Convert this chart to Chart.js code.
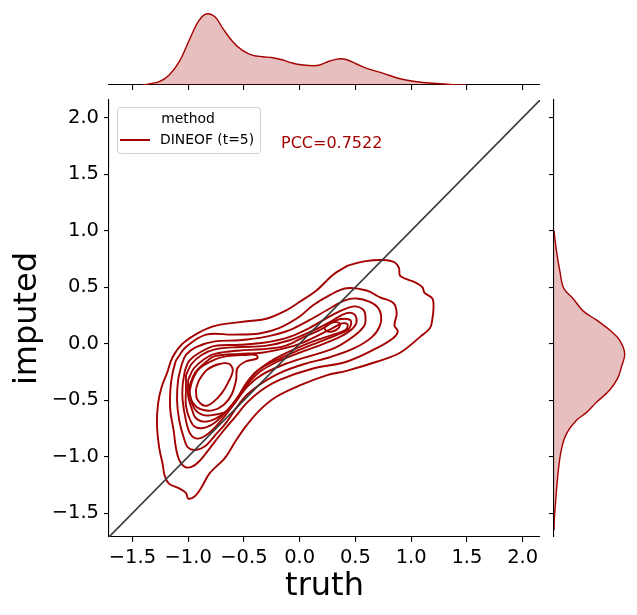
<!DOCTYPE html>
<html>
<head>
<meta charset="utf-8">
<script src="https://cdn.jsdelivr.net/npm/chart.js@4.4.1/dist/chart.umd.min.js"></script>
<style>
  html, body { margin: 0; padding: 0; background: #fff; }
  #wrap { position: relative; width: 637px; height: 615px; }
  canvas { position: absolute; }
</style>
</head>
<body>
<div id="wrap">
  <canvas id="top" width="637" height="100" style="left:0;top:0"></canvas>
  <canvas id="side" width="97" height="615" style="left:540px;top:0"></canvas>
  <canvas id="main" width="637" height="615" style="left:0;top:0"></canvas>
</div>
<script>
// axis limits and ticks (same for truth and imputed)
const axisMin = -1.71;
const axisMax = 2.155;
const xTicks = [-1.5, -1.0, -0.5, 0.0, 0.5, 1.0, 1.5, 2.0];
const yTicks = [-1.5, -1.0, -0.5, 0.0, 0.5, 1.0, 1.5, 2.0];

const methodName = "DINEOF (t=5)";
const pccText = "PCC=0.7522";

// KDE contour lines, [truth, imputed], outermost first
const level1 = [[0.43,0.69],[0.59,0.73],[0.75,0.74],[0.85,0.72],[0.89,0.67],[0.90,0.60],[0.96,0.57],[1.04,0.54],[1.10,0.50],[1.12,0.45],[1.19,0.40],[1.20,0.31],[1.19,0.22],[1.17,0.14],[1.08,0.06],[0.90,-0.08],[0.69,-0.16],[0.42,-0.24],[0.24,-0.28],[0.00,-0.37],[-0.21,-0.47],[-0.36,-0.59],[-0.49,-0.74],[-0.58,-0.87],[-0.67,-1.01],[-0.81,-1.15],[-0.88,-1.27],[-0.94,-1.35],[-1.00,-1.37],[-1.02,-1.32],[-1.08,-1.28],[-1.17,-1.24],[-1.21,-1.17],[-1.23,-1.06],[-1.26,-0.92],[-1.28,-0.71],[-1.27,-0.53],[-1.24,-0.39],[-1.19,-0.26],[-1.14,-0.12],[-1.05,0.00],[-0.90,0.10],[-0.75,0.16],[-0.45,0.20],[-0.30,0.22],[-0.13,0.29],[0.00,0.37],[0.15,0.47],[0.30,0.61]];
const level2 = [[-1.11,-0.15],[-1.02,-0.03],[-0.84,0.08],[-0.60,0.08],[-0.36,0.09],[-0.18,0.14],[0.00,0.24],[0.12,0.34],[0.27,0.43],[0.42,0.49],[0.60,0.47],[0.72,0.41],[0.84,0.36],[0.87,0.27],[0.85,0.16],[0.88,0.11],[0.84,0.05],[0.69,-0.04],[0.42,-0.16],[0.12,-0.22],[-0.18,-0.32],[-0.34,-0.41],[-0.47,-0.52],[-0.58,-0.65],[-0.70,-0.79],[-0.81,-0.93],[-0.90,-1.04],[-0.97,-1.09],[-1.03,-1.09],[-1.08,-1.03],[-1.11,-0.92],[-1.13,-0.77],[-1.16,-0.59],[-1.16,-0.41],[-1.14,-0.26]];
const level3 = [[-1.06,-0.19],[-1.02,-0.10],[-0.93,-0.03],[-0.76,0.02],[-0.54,0.03],[-0.31,0.06],[-0.09,0.12],[0.09,0.21],[0.25,0.30],[0.40,0.38],[0.51,0.40],[0.63,0.37],[0.70,0.32],[0.73,0.25],[0.72,0.16],[0.65,0.06],[0.49,-0.04],[0.27,-0.12],[0.04,-0.18],[-0.18,-0.26],[-0.34,-0.35],[-0.47,-0.45],[-0.57,-0.57],[-0.66,-0.70],[-0.75,-0.80],[-0.84,-0.90],[-0.93,-0.94],[-1.00,-0.92],[-1.04,-0.83],[-1.08,-0.68],[-1.10,-0.50],[-1.09,-0.32]];
const level4 = [[-1.03,-0.24],[-0.99,-0.15],[-0.90,-0.08],[-0.76,-0.02],[-0.54,-0.01],[-0.31,0.01],[-0.09,0.06],[0.09,0.14],[0.25,0.23],[0.39,0.30],[0.49,0.33],[0.57,0.30],[0.59,0.24],[0.58,0.16],[0.49,0.07],[0.31,-0.04],[0.09,-0.11],[-0.13,-0.18],[-0.33,-0.27],[-0.46,-0.37],[-0.55,-0.48],[-0.64,-0.60],[-0.74,-0.72],[-0.84,-0.81],[-0.92,-0.84],[-0.98,-0.80],[-1.02,-0.68],[-1.05,-0.50],[-1.05,-0.37]];
const level5 = [[-1.02,-0.28],[-0.97,-0.18],[-0.88,-0.10],[-0.76,-0.05],[-0.54,-0.03],[-0.31,-0.02],[-0.09,0.03],[0.11,0.11],[0.27,0.19],[0.39,0.26],[0.47,0.27],[0.51,0.22],[0.49,0.15],[0.40,0.08],[0.22,0.00],[0.00,-0.08],[-0.20,-0.16],[-0.36,-0.25],[-0.47,-0.36],[-0.56,-0.48],[-0.65,-0.59],[-0.75,-0.69],[-0.84,-0.74],[-0.93,-0.74],[-0.98,-0.68],[-1.02,-0.55],[-1.02,-0.41]];
const level6 = [[-1.00,-0.32],[-0.95,-0.22],[-0.86,-0.14],[-0.76,-0.09],[-0.54,-0.06],[-0.34,-0.05],[-0.13,-0.02],[0.04,0.06],[0.20,0.13],[0.31,0.20],[0.40,0.22],[0.46,0.20],[0.44,0.13],[0.34,0.08],[0.16,0.01],[-0.04,-0.07],[-0.22,-0.15],[-0.38,-0.24],[-0.48,-0.35],[-0.56,-0.48],[-0.65,-0.59],[-0.75,-0.66],[-0.85,-0.69],[-0.93,-0.66],[-0.97,-0.57],[-1.00,-0.46]];
const level7 = [[-0.99,-0.38],[-0.94,-0.26],[-0.85,-0.17],[-0.76,-0.11],[-0.54,-0.09],[-0.34,-0.08],[-0.13,-0.04],[0.03,0.01],[0.18,0.08],[0.30,0.14],[0.38,0.18],[0.43,0.17],[0.41,0.12],[0.30,0.08],[0.12,0.02],[-0.07,-0.06],[-0.25,-0.15],[-0.40,-0.26],[-0.49,-0.38],[-0.57,-0.51],[-0.66,-0.60],[-0.77,-0.63],[-0.87,-0.63],[-0.94,-0.58],[-0.98,-0.48]];
const level8a = [[-0.99,-0.43],[-0.96,-0.32],[-0.90,-0.22],[-0.76,-0.14],[-0.65,-0.11],[-0.49,-0.10],[-0.39,-0.10],[-0.38,-0.13],[-0.49,-0.16],[-0.56,-0.22],[-0.57,-0.32],[-0.61,-0.45],[-0.68,-0.54],[-0.78,-0.59],[-0.89,-0.58],[-0.96,-0.52]];
const level8b = [[0.22,0.14],[0.26,0.17],[0.31,0.19],[0.36,0.18],[0.35,0.14],[0.30,0.11],[0.24,0.11]];
const level9 = [[-0.93,-0.40],[-0.90,-0.32],[-0.83,-0.23],[-0.72,-0.18],[-0.63,-0.18],[-0.60,-0.24],[-0.64,-0.34],[-0.70,-0.44],[-0.78,-0.52],[-0.85,-0.55],[-0.92,-0.49]];

// marginal densities
const truthGrid = [-1.41,-1.26,-1.17,-1.08,-0.99,-0.91,-0.84,-0.76,-0.69,-0.60,-0.51,-0.42,-0.33,-0.24,-0.15,-0.06,0.03,0.12,0.18,0.27,0.36,0.43,0.51,0.60,0.75,0.90,1.05,1.20,1.38,1.50];
const truthDensity = [0,0.033,0.10,0.233,0.45,0.633,0.71,0.683,0.567,0.433,0.343,0.297,0.283,0.273,0.25,0.217,0.20,0.193,0.20,0.24,0.263,0.25,0.21,0.167,0.117,0.063,0.033,0.017,0.003,0];
const imputedGrid = [1.00,0.83,0.65,0.49,0.40,0.29,0.21,0.12,0.03,-0.09,-0.21,-0.30,-0.41,-0.52,-0.61,-0.68,-0.80,-0.94,-1.15,-1.39,-1.56,-1.65];
const imputedDensity = [0,0.023,0.057,0.097,0.19,0.29,0.423,0.557,0.657,0.707,0.673,0.64,0.557,0.423,0.323,0.223,0.123,0.073,0.04,0.017,0.003,0];

const RED = "#a30000";
const FILL = "rgba(163,0,0,0.25)";
Chart.defaults.font.family = "'DejaVu Sans', sans-serif";
Chart.defaults.color = "#000";

const fmt = v => Number(v).toFixed(1).replace("-", "\u2212");
const setTicks = list => s => { s.ticks = list.map(v => ({ value: v })); };
const spine = { display: true, color: "#000", width: 1.1 };
const tickMarks = { drawOnChartArea: false, drawTicks: true, tickLength: 5, color: "#000", lineWidth: 1.1 };

const closeLoop = pts => pts.concat([pts[0]]).map(([x, y]) => ({ x, y }));
const contours = [level1, level2, level3, level4, level5, level6, level7, level8a, level8b, level9].map(pts => ({
  data: closeLoop(pts),
  borderColor: RED,
  borderWidth: 1.9,
  pointRadius: 0,
  showLine: true,
  tension: 0.35,
  fill: false
}));

const legendAndText = {
  id: "legendAndText",
  afterDraw(chart) {
    const ctx = chart.ctx;
    ctx.save();
    ctx.fillStyle = "rgba(255,255,255,0.8)";
    ctx.strokeStyle = "#d0d0d0";
    ctx.lineWidth = 1;
    ctx.beginPath();
    ctx.roundRect(117.5, 107.5, 143, 46, 3);
    ctx.fill();
    ctx.stroke();
    ctx.font = "13.9px 'DejaVu Sans'";
    ctx.fillStyle = "#000";
    ctx.textBaseline = "middle";
    ctx.textAlign = "center";
    ctx.fillText("method", 188, 119.5);
    ctx.textAlign = "left";
    ctx.fillText(methodName, 160, 140.5);
    ctx.strokeStyle = RED;
    ctx.lineWidth = 2;
    ctx.beginPath();
    ctx.moveTo(120, 140);
    ctx.lineTo(150, 140);
    ctx.stroke();
    ctx.font = "16px 'DejaVu Sans'";
    ctx.fillStyle = RED;
    ctx.fillText(pccText, 281, 143.5);
    ctx.restore();
  }
};

new Chart(document.getElementById("main"), {
  type: "scatter",
  data: {
    datasets: [{
      data: [{ x: axisMin, y: axisMin }, { x: axisMax, y: axisMax }],
      borderColor: "#3c3c3c",
      borderWidth: 1.6,
      pointRadius: 0,
      showLine: true
    }, ...contours]
  },
  options: {
    responsive: false,
    animation: false,
    layout: { padding: { top: 100, right: 97, left: 0, bottom: 0 } },
    scales: {
      x: {
        type: "linear", min: axisMin, max: axisMax,
        afterBuildTicks: setTicks(xTicks),
        afterFit: s => { s.height = 78; },
        grid: tickMarks, border: spine,
        ticks: { font: { size: 19.5 }, padding: 4, callback: fmt, maxRotation: 0, autoSkip: false },
        title: { display: true, text: "truth", font: { size: 32 }, padding: { top: 0, bottom: 9 } }
      },
      y: {
        type: "linear", min: axisMin, max: axisMax,
        afterBuildTicks: setTicks(yTicks),
        afterFit: s => { s.width = 109; },
        grid: tickMarks, border: spine,
        ticks: { font: { size: 19.5 }, padding: 5, callback: fmt, autoSkip: false },
        title: { display: true, text: "imputed", font: { size: 32 }, padding: { top: 8, bottom: 0 } }
      }
    },
    plugins: { legend: { display: false }, tooltip: { enabled: false } }
  },
  plugins: [legendAndText]
});

// top marginal: truth density
new Chart(document.getElementById("top"), {
  type: "line",
  data: {
    datasets: [{
      data: truthGrid.map((x, i) => ({ x, y: truthDensity[i] })),
      borderColor: RED, borderWidth: 1.4, backgroundColor: FILL,
      fill: "origin", pointRadius: 0, tension: 0.35
    }]
  },
  options: {
    responsive: false,
    animation: false,
    layout: { padding: { left: 109, right: 97, top: 0, bottom: 0 } },
    scales: {
      x: {
        type: "linear", min: axisMin, max: axisMax,
        afterBuildTicks: setTicks(xTicks),
        afterFit: s => { s.height = 15; },
        grid: tickMarks, border: spine,
        ticks: { display: false }
      },
      y: { type: "linear", display: false, min: 0, max: 0.85 }
    },
    plugins: { legend: { display: false }, tooltip: { enabled: false } }
  }
});

// right marginal: imputed density
new Chart(document.getElementById("side"), {
  type: "line",
  data: {
    datasets: [{
      data: imputedGrid.map((y, i) => ({ x: imputedDensity[i], y })),
      borderColor: RED, borderWidth: 1.4, backgroundColor: FILL,
      fill: "origin", pointRadius: 0, tension: 0.35
    }]
  },
  options: {
    indexAxis: "y",
    responsive: false,
    animation: false,
    layout: { padding: { left: 0, right: 0, top: 100, bottom: 78 } },
    scales: {
      y: {
        type: "linear", position: "left", min: axisMin, max: axisMax,
        afterBuildTicks: setTicks(yTicks),
        afterFit: s => { s.width = 14; },
        grid: tickMarks, border: spine,
        ticks: { display: false }
      },
      x: { type: "linear", display: false, min: 0, max: 0.83 }
    },
    plugins: { legend: { display: false }, tooltip: { enabled: false } }
  }
});
</script>
</body>
</html>
